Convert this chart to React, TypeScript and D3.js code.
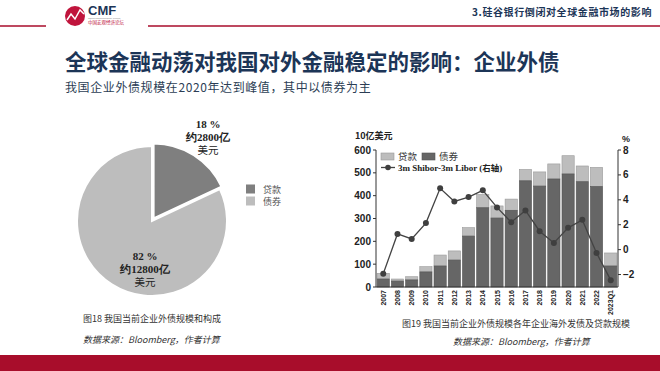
import React from 'react';
import * as d3 from 'd3';

// pie data
const pieCategories = ['贷款', '债券'];
const pieShares = [18, 82];
const pieAmounts = ['约2800亿', '约12800亿'];

// bar/line data
const years = ['2007', '2008', '2009', '2010', '2011', '2012', '2013', '2014', '2015', '2016', '2017', '2018', '2019', '2020', '2021', '2022', '2023Q1'];
const bonds = [35, 26, 31, 66, 92, 118, 223, 347, 302, 336, 465, 442, 473, 495, 461, 440, 92];
const loans = [25, 9, 14, 23, 48, 40, 37, 58, 53, 49, 50, 62, 66, 80, 69, 84, 57];
const spread = [-1.94, 1.26, 0.86, 2.13, 4.92, 3.87, 4.22, 4.76, 3.39, 2.2, 3.15, 1.48, 0.54, 1.75, 2.39, -0.27, -2.45];
const leftTicks = [0, 100, 200, 300, 400, 500, 600];
const rightTicks = [-2, 0, 2, 4, 6, 8];

const NAVY = '#1c3557';
const RED = '#a80d2b';
const DARK = '#666666';
const LIGHT = '#bdbdbd';
const CJK = '"Noto Sans CJK SC", "Noto Sans", sans-serif';
const SERIF = '"Liberation Serif", "DejaVu Serif", serif';
const SANS = '"Liberation Sans", Arial, sans-serif';

const PieChart: React.FC = () => {
  const cx = 152;
  const cy = 221;
  const r = 75;
  const pie = d3.pie<number>().sort(null)(pieShares);
  const arc = d3.arc<d3.PieArcDatum<number>>().innerRadius(0).outerRadius(r);
  const colors = ['#7f7f7f', LIGHT];
  const labelPos = [
    { x: 208, y: 128 },
    { x: 145, y: 260 },
  ];
  return (
    <g>
      {pie.map((d, i) => {
        const mid = (d.startAngle + d.endAngle) / 2;
        const off = i === 0 ? 3 : 0;
        return (
          <path
            key={i}
            d={arc(d) as string}
            transform={`translate(${cx + off * Math.sin(mid)},${cy - off * Math.cos(mid)})`}
            fill={colors[i]}
            stroke="#fff"
            strokeWidth={2}
          />
        );
      })}
      {labelPos.map((p, i) => (
        <text key={i} textAnchor="middle" fill="#222" fontSize={11}>
          <tspan x={p.x} y={p.y} fontFamily={SERIF} fontWeight="bold">{pieShares[i]} %</tspan>
          <tspan x={p.x} dy={13} fontFamily={SERIF} fontWeight="bold">{pieAmounts[i]}</tspan>
          <tspan x={p.x} dy={13} fontFamily={CJK} fontSize={10.5}>美元</tspan>
        </text>
      ))}
      {pieCategories.map((c, i) => (
        <g key={c} transform={`translate(246,${184.5 + i * 12})`}>
          <rect width={9} height={9} fill={colors[i]} />
          <text x={17} y={8} fontSize={9} fontFamily={CJK} fill="#555">{c}</text>
        </g>
      ))}
    </g>
  );
};

const BarChart: React.FC = () => {
  const x = d3.scaleBand<string>().domain(years).range([376, 618]).paddingInner(0.14).paddingOuter(0.08);
  const y = d3.scaleLinear().domain([0, 600]).range([287, 150]);
  const yr = d3.scaleLinear().domain([-3, 8]).range([287, 150]);
  const line = d3
    .line<number>()
    .x((_, i) => (x(years[i]) as number) + x.bandwidth() / 2)
    .y((d) => yr(d));
  return (
    <g>
      {years.map((yrLabel, i) => {
        const bx = x(yrLabel) as number;
        const total = bonds[i] + loans[i];
        return (
          <g key={yrLabel}>
            <rect x={bx} y={y(total)} width={x.bandwidth()} height={y(bonds[i]) - y(total)} fill={LIGHT} stroke="#9a9a9a" strokeWidth={0.6} />
            <rect x={bx} y={y(bonds[i])} width={x.bandwidth()} height={y(0) - y(bonds[i])} fill={DARK} stroke="#555" strokeWidth={0.6} />
          </g>
        );
      })}
      <path d={line(spread) as string} fill="none" stroke="#444" strokeWidth={1.3} />
      {spread.map((v, i) => (
        <circle key={i} cx={(x(years[i]) as number) + x.bandwidth() / 2} cy={yr(v)} r={3} fill="#3f3f3f" />
      ))}
      {/* axes */}
      <line x1={376} x2={376} y1={150} y2={287} stroke="#333" />
      <line x1={618} x2={618} y1={150} y2={287} stroke="#333" />
      <line x1={376} x2={618} y1={287} y2={287} stroke="#333" />
      {leftTicks.map((t) => (
        <g key={t}>
          <line x1={373} x2={376} y1={y(t)} y2={y(t)} stroke="#333" />
          <text x={371} y={y(t) + 3.5} textAnchor="end" fontSize={10} fontWeight="bold" fontFamily={SANS} fill="#222">{t}</text>
        </g>
      ))}
      {rightTicks.map((t) => (
        <g key={t}>
          <line x1={618} x2={621} y1={yr(t)} y2={yr(t)} stroke="#333" />
          <text x={623} y={yr(t) + 3.5} fontSize={10} fontWeight="bold" fontFamily={SANS} fill="#222">{t < 0 ? `−${-t}` : t}</text>
        </g>
      ))}
      {years.map((yl) => (
        <text
          key={yl}
          transform={`translate(${(x(yl) as number) + x.bandwidth() / 2 + 2.5},290) rotate(-90)`}
          textAnchor="end"
          fontSize={7}
          fontWeight="bold"
          fontFamily={SANS}
          fill="#222"
        >
          {yl}
        </text>
      ))}
      <text x={355} y={139} fontSize={9} fontFamily={CJK} fontWeight="bold" fill="#222">10亿美元</text>
      <text x={622} y={142} fontSize={9} fontFamily={SANS} fontWeight="bold" fill="#222">%</text>
      {/* legend */}
      <rect x={381} y={153} width={13} height={7} fill={LIGHT} stroke="#9a9a9a" strokeWidth={0.6} />
      <text x={398} y={160} fontSize={9.5} fontFamily={CJK} fill="#333">贷款</text>
      <rect x={422} y={153} width={13} height={7} fill={DARK} stroke="#555" strokeWidth={0.6} />
      <text x={439} y={160} fontSize={9.5} fontFamily={CJK} fill="#333">债券</text>
      <line x1={381} x2={395} y1={167.5} y2={167.5} stroke="#444" strokeWidth={1.3} />
      <circle cx={388} cy={167.5} r={2.8} fill="#3f3f3f" />
      <text x={398} y={170.5} fontSize={9} fontFamily={SERIF} fontWeight="bold" fill="#222">
        3m Shibor-3m Libor (<tspan fontFamily={CJK} fontSize={8.5}>右轴</tspan>)
      </text>
    </g>
  );
};

export default function App() {
  return (
    <svg width={660} height={371} style={{ position: 'absolute', left: 0, top: 0, background: '#fff' }}>
      <rect width={660} height={371} fill="#fff" />
      {/* header */}
      <line x1={0} x2={46} y1={26} y2={26} stroke={RED} strokeWidth={1.5} />
      <line x1={148} x2={660} y1={26} y2={26} stroke={RED} strokeWidth={1.5} />
      <circle cx={75} cy={16} r={10} fill="#c0143c" />
      <path d="M67,20 L71,14 L75,19 L80,10 L84,14" fill="none" stroke="#fff" strokeWidth={1.5} />
      <text x={88} y={15} fontSize={13} fontWeight="bold" fontFamily={SANS} fill={NAVY}>CMF</text>
      <text x={88} y={19} fontSize={2.5} fontFamily={SANS} fill="#777">China Macroeconomy Forum</text>
      <text x={88} y={24} fontSize={4.5} fontFamily={CJK} fill="#c0143c">中国宏观经济论坛</text>
      <text x={652} y={16} textAnchor="end" fontSize={10} fontWeight="bold" fontFamily={CJK} fill={NAVY} letterSpacing={0.6}>
        3.硅谷银行倒闭对全球金融市场的影响
      </text>
      <text x={65} y={70} fontSize={21.5} fontWeight="bold" fontFamily={CJK} fill={NAVY}>
        全球金融动荡对我国对外金融稳定的影响：企业外债
      </text>
      <text x={65} y={92} fontSize={12} fontFamily={CJK} fill="#2c3e55" letterSpacing={0.6}>
        我国企业外债规模在2020年达到峰值，其中以债券为主
      </text>
      <PieChart />
      <BarChart />
      {/* captions */}
      <text x={83} y={322} fontSize={9} fontFamily={CJK} fill="#333">图18 我国当前企业外债规模和构成</text>
      <text x={83} y={343} fontSize={9} fontStyle="italic" fontFamily={CJK} fill="#333">数据来源：Bloomberg，作者计算</text>
      <text x={402} y={327} fontSize={9} fontFamily={CJK} fill="#333">图19 我国当前企业外债规模各年企业海外发债及贷款规模</text>
      <text x={453} y={345} fontSize={9} fontStyle="italic" fontFamily={CJK} fill="#333">数据来源：Bloomberg，作者计算</text>
      <rect x={0} y={355} width={660} height={16} fill={RED} />
    </svg>
  );
}
